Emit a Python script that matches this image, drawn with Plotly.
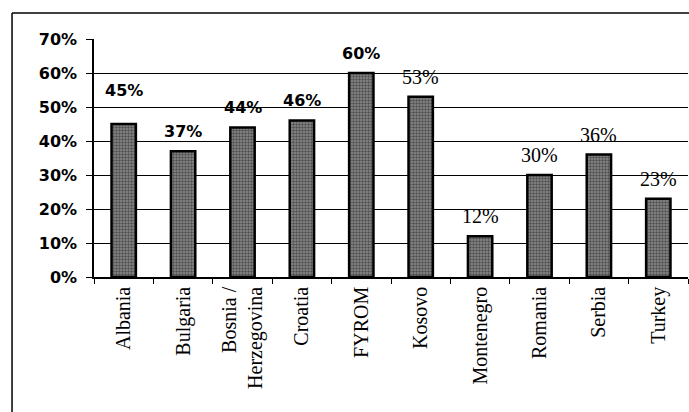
import plotly.graph_objects as go

categories = ["Albania", "Bulgaria", "Bosnia /<br>Herzegovina", "Croatia", "FYROM",
              "Kosovo", "Montenegro", "Romania", "Serbia", "Turkey"]
values = [0.45, 0.37, 0.44, 0.46, 0.60, 0.53, 0.12, 0.30, 0.36, 0.23]
value_labels = ["45%", "37%", "44%", "46%", "60%", "53%", "12%", "30%", "36%", "23%"]
y_ticks = [0, 0.1, 0.2, 0.3, 0.4, 0.5, 0.6, 0.7]
y_tick_labels = ["0%", "10%", "20%", "30%", "40%", "50%", "60%", "70%"]

fig = go.Figure()
fig.add_trace(go.Bar(
    x=categories, y=values,
    marker=dict(color="#7a7a7a",
                line=dict(color="black", width=2.5),
                pattern=dict(shape=".", fgcolor="#111111", bgcolor="#8c8c8c",
                             size=3, solidity=0.5)),
    hoverinfo="skip",
))

for i, (c, v, t) in enumerate(zip(categories, values, value_labels)):
    shift = 34 if i == 0 else 20
    serif = i >= 5
    fig.add_annotation(
        x=c, y=v, text=t, showarrow=False, yanchor="middle", yshift=shift,
        font=dict(family="Liberation Serif" if serif else "DejaVu Sans",
                  size=20 if serif else 16, color="black",
                  weight="normal" if serif else "bold"),
    )

# outer frame (left and top edges)
fig.add_shape(type="line", xref="paper", yref="paper",
              x0=-0.138, x1=-0.138, y0=1.109, y1=-0.6,
              line=dict(color="black", width=1.5))
fig.add_shape(type="line", xref="paper", yref="paper",
              x0=-0.138, x1=1.01, y0=1.109, y1=1.109,
              line=dict(color="black", width=1.5))

fig.update_layout(
    width=689, height=412,
    margin=dict(l=94, r=1, t=39, b=135),
    paper_bgcolor="white", plot_bgcolor="white",
    bargap=0.59, showlegend=False,
    xaxis=dict(
        showline=True, linecolor="black", linewidth=1.5,
        ticks="outside", tickson="boundaries", ticklen=5, tickcolor="black",
        tickangle=-90,
        tickfont=dict(family="Liberation Serif", size=20, color="black"),
        showgrid=False,
    ),
    yaxis=dict(
        range=[0, 0.7], tickvals=y_ticks, ticktext=y_tick_labels,
        showline=True, linecolor="black", linewidth=1.5,
        ticks="outside", ticklen=6, tickcolor="black",
        showgrid=True, gridcolor="black", gridwidth=1,
        tickfont=dict(family="DejaVu Sans", size=16, color="black", weight="bold"),
        ticklabelstandoff=6,
        zeroline=False,
    ),
)

fig.write_html("out.html")
